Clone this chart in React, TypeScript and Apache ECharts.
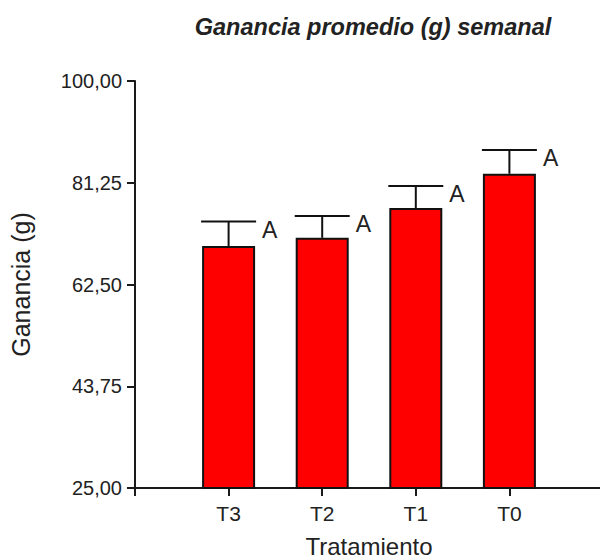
import React, { useEffect, useRef } from "react";
import * as echarts from "echarts";

const TITLE = "Ganancia promedio (g) semanal";
const categories = ["T3", "T2", "T1", "T0"];
const means = [69.6, 71.1, 76.6, 82.9];
const errors = [4.5, 4.0, 4.05, 4.4];
const letters = ["A", "A", "A", "A"];
const yMin = 25;
const yMax = 100;
const yStep = 18.75;

const FONT = "'Liberation Sans', Arial, sans-serif";
const TXT = "#222";

export default function App() {
  const ref = useRef<HTMLDivElement>(null);
  useEffect(() => {
    if (!ref.current) return;
    const chart = echarts.init(ref.current, undefined, { renderer: "svg" });
    const axisCats = [" ", ...categories, "  "];
    const barData = categories.map((c, i) => [c, means[i]]);
    const errData = categories.map((c, i) => [c, means[i], means[i] + errors[i], i]);
    chart.setOption({
      animation: false,
      backgroundColor: "#fff",
      graphic: [
        {
          type: "text",
          x: 373,
          y: 27,
          style: {
            text: TITLE,
            font: `italic bold 23.5px ${FONT}`,
            fill: TXT,
            align: "center",
            verticalAlign: "middle",
          },
        },
      ],
      grid: { left: 135, right: -3, top: 81, bottom: 71, containLabel: false, outerBoundsMode: "none" },
      xAxis: {
        type: "category",
        data: axisCats,
        boundaryGap: false,
        name: "Tratamiento",
        nameLocation: "middle",
        nameGap: 46,
        nameTextStyle: { fontFamily: FONT, fontSize: 24, color: TXT },
        axisLine: { lineStyle: { color: "#1a1a1a", width: 2 } },
        axisTick: { show: true, length: 8, lineStyle: { color: "#1a1a1a", width: 2 } },
        axisLabel: { fontFamily: FONT, fontSize: 21, color: TXT, margin: 15, interval: 0 },
        splitLine: { show: false },
      },
      yAxis: {
        type: "value",
        min: yMin,
        max: yMax,
        interval: yStep,
        name: "Ganancia (g)",
        nameLocation: "middle",
        nameGap: 102,
        nameTextStyle: { fontFamily: FONT, fontSize: 25, color: TXT },
        axisLine: { show: true, lineStyle: { color: "#1a1a1a", width: 2 } },
        axisTick: { show: true, length: 8, lineStyle: { color: "#1a1a1a", width: 2 } },
        axisLabel: {
          fontFamily: FONT,
          fontSize: 20,
          color: TXT,
          margin: 13,
          formatter: (v: number) => v.toFixed(2).replace(".", ","),
        },
        splitLine: { show: false },
      },
      series: [
        {
          type: "bar",
          data: barData,
          barWidth: 53,
          itemStyle: { color: "#ff0000", borderColor: "#111", borderWidth: 2 },
        },
        {
          type: "custom",
          data: errData,
          encode: { x: 0, y: [1, 2] },
          renderItem: (params: any, api: any) => {
            const cat = api.value(0);
            const base = api.coord([cat, api.value(1)]);
            const top = api.coord([cat, api.value(2)]);
            const idx = api.value(3);
            const hw = 27.5;
            return {
              type: "group",
              children: [
                {
                  type: "line",
                  shape: { x1: base[0], y1: base[1], x2: top[0], y2: top[1] },
                  style: { stroke: "#111", lineWidth: 2 },
                },
                {
                  type: "line",
                  shape: { x1: top[0] - hw, y1: top[1], x2: top[0] + hw, y2: top[1] },
                  style: { stroke: "#111", lineWidth: 2 },
                },
                {
                  type: "text",
                  x: top[0] + hw + 6,
                  y: top[1] + 8,
                  style: {
                    text: letters[idx],
                    font: `23px ${FONT}`,
                    fill: TXT,
                    align: "left",
                    verticalAlign: "middle",
                  },
                },
              ],
            };
          },
        },
      ],
    });
    return () => chart.dispose();
  }, []);
  return <div ref={ref} style={{ width: 600, height: 559, position: "absolute", left: 0, top: 0 }} />;
}
